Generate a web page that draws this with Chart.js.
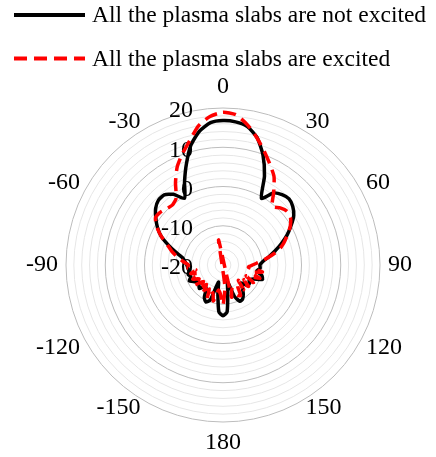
<!DOCTYPE html>
<html>
<head>
<meta charset="utf-8">
<script src="https://cdn.jsdelivr.net/npm/chart.js@4.4.0/dist/chart.umd.min.js"></script>
<style>
  html, body { margin: 0; padding: 0; background: #fff; }
</style>
</head>
<body>
<canvas id="polarChart" width="436" height="457"></canvas>
<script>
// angle of each sample, degrees clockwise from top (185..355 = -175..-5)
const angles = [
  0, 5, 10, 15, 20, 25, 30, 35, 40, 45, 50, 55,
  60, 65, 70, 75, 80, 85, 90, 95, 100, 105, 110, 115,
  120, 125, 130, 135, 140, 145, 150, 155, 160, 165, 170, 175,
  180, 185, 190, 195, 200, 205, 210, 215, 220, 225, 230, 235,
  240, 245, 250, 255, 260, 265, 270, 275, 280, 285, 290, 295,
  300, 305, 310, 315, 320, 325, 330, 335, 340, 345, 350, 355
];

// dB
const notExcited = [
  16.8, 16.6, 15.8, 13.6, 9.8, 5.0, -0.4, 2.4, 3.4, 3.8, 3.2, 2.0,
  0.0, -2.0, -4.2, -6.3, -8.2, -9.8, -10.6, -10.5, -11.3, -9.8, -9.3, -11.5,
  -12.3, -11.8, -11.8, -13.5, -12.3, -11.0, -10.0, -9.8, -11.5, -15.5, -13.0, -8.0,
  -7.1, -8.0, -12.5, -15.5, -10.5, -9.6, -10.5, -12.5, -13.0, -11.5, -12.0, -12.5,
  -11.5, -10.5, -11.3, -10.8, -11.2, -11.0, -10.8, -10.3, -9.6, -7.6, -5.2, -2.6,
  -0.7, 0.9, 2.4, 3.3, 3.3, 2.0, -0.4, 3.2, 7.3, 11.6, 14.6, 16.4
];

const excited = [
  18.9, 18.4, 16.2, 13.5, 10.8, 8.3, 6.0, 2.5, -0.5, 0.6, 1.3, 1.0,
  -0.2, -1.9, -3.5, -5.3, -8.0, -10.5, -12.5, -13.5, -9.8, -12.5, -10.0, -13.5,
  -11.0, -13.5, -11.5, -14.5, -11.8, -13.5, -11.0, -11.5, -13.5, -11.5, -26.5, -14.5,
  -9.8, -12.5, -13.5, -10.5, -12.5, -10.5, -13.0, -11.0, -13.5, -11.5, -13.5, -11.0,
  -13.0, -11.5, -13.5, -11.5, -13.0, -11.0, -11.2, -9.8, -8.2, -6.5, -4.9, -2.6,
  -0.5, 1.0, 0.9, 0.3, 0.0, 0.8, 4.2, 7.6, 10.2, 12.8, 16.0, 18.0
];

const angleTicks = [0, 30, 60, 90, 120, 150, 180, -150, -120, -90, -60, -30];
const radialTicks = [20, 10, 0, -10, -20];
const seriesNames = ["All the plasma slabs are not excited", "All the plasma slabs are excited"];

const serif = "'Liberation Serif', 'Times New Roman', serif";

// ==========================
// TEXT PLUGIN (ticks, angles, legend)
// ==========================
const polarText = {
  id: "polarText",

  beforeDatasetsDraw(chart) {
    const r = chart.scales.r;
    const ctx = chart.ctx;
    ctx.save();
    ctx.fillStyle = "#000";
    ctx.font = "24px " + serif;
    ctx.textAlign = "right";
    ctx.textBaseline = "middle";
    radialTicks.forEach(v => {
      const y = r.yCenter - r.getDistanceFromCenterForValue(v);
      ctx.fillText(String(v), r.xCenter - 30, y + 3);
    });
    ctx.restore();
  },

  afterDraw(chart) {
    const r = chart.scales.r;
    const ctx = chart.ctx;
    ctx.save();
    ctx.fillStyle = "#000";
    ctx.font = "24px " + serif;
    ctx.textBaseline = "middle";

    angles.forEach((a, i) => {
      const lbl = a > 180 ? a - 360 : a;
      if (!angleTicks.includes(lbl)) return;
      const vertical = a === 0 || a === 180;
      const p = r.getPointPosition(i, r.drawingArea + (vertical ? 21 : 8));
      ctx.textAlign = vertical ? "center" : (a < 180 ? "left" : "right");
      ctx.fillText(String(lbl), p.x, p.y);
    });

    // legend, black first
    const items = chart.data.datasets.slice().reverse();
    ctx.font = "23.5px " + serif;
    ctx.textAlign = "left";
    items.forEach((ds, i) => {
      const y = 15 + i * 43.5;
      ctx.strokeStyle = ds.borderColor;
      ctx.lineWidth = 4;
      ctx.setLineDash(ds.borderDash || []);
      ctx.beginPath();
      ctx.moveTo(14, y);
      ctx.lineTo(85, y);
      ctx.stroke();
      ctx.fillText(ds.label, 92, y + 1);
    });
    ctx.restore();
  }
};

const ctx = document.getElementById("polarChart").getContext("2d");

new Chart(ctx, {
  type: "radar",
  data: {
    labels: angles,
    datasets: [
      {
        label: seriesNames[1],
        data: excited,
        borderColor: "#ff0000",
        borderWidth: 3.5,
        borderDash: [13, 7],
        fill: false,
        tension: 0.2,
        pointRadius: 0
      },
      {
        label: seriesNames[0],
        data: notExcited,
        borderColor: "#000000",
        borderWidth: 3.5,
        fill: false,
        tension: 0.2,
        pointRadius: 0
      }
    ]
  },
  options: {
    responsive: false,
    animation: false,
    layout: {
      padding: { left: 66, right: 56, top: 108, bottom: 35 }
    },
    plugins: {
      legend: { display: false },
      tooltip: { enabled: false }
    },
    scales: {
      r: {
        min: -20,
        max: 20,
        startAngle: 0,
        ticks: { stepSize: 2, display: false },
        pointLabels: { display: false },
        angleLines: { display: false },
        grid: {
          circular: true,
          lineWidth: 1,
          color: (c) => (c.tick && c.tick.value % 10 === 0) ? "#bdbdbd" : "#e6e6e6"
        }
      }
    }
  },
  plugins: [polarText]
});
</script>
</body>
</html>
